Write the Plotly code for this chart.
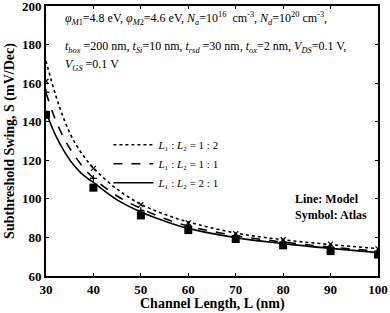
import plotly.graph_objects as go

# Model curves (lines)
L_model = [30, 32, 34, 36, 38, 40, 45, 50, 55, 60, 70, 80, 90, 100]
S_model_12 = [171.5, 154, 140, 129.5, 122, 116, 105, 97.2, 92, 88, 82.3, 78.8, 76.3, 74.2]
S_model_11 = [155, 141, 130.5, 122.5, 116, 110.8, 101.5, 95, 89.8, 85.9, 80.9, 77.6, 75, 72.9]
S_model_21 = [145, 133, 124, 117, 112, 108.5, 99.5, 93.2, 88.5, 84.7, 79.9, 76.8, 74.3, 72.1]

# Atlas simulation (symbols)
L_atlas = [30, 40, 50, 60, 70, 80, 90, 100]
S_atlas_12 = [161, 115.8, 97, 87.5, 82, 78.8, 76.5, 74]
S_atlas_11 = [155.3, 110.6, 94, 86, 80.5, 77, 75, 72.6]
S_atlas_21 = [143.6, 105.8, 91.4, 83.8, 79.2, 75.9, 72.9, 71.1]

legend_names = ["<i>L</i>₁ : <i>L</i>₂ = 1 : 2",
                "<i>L</i>₁ : <i>L</i>₂ = 1 : 1",
                "<i>L</i>₁ : <i>L</i>₂ = 2 : 1"]

x_ticks = [30, 40, 50, 60, 70, 80, 90, 100]
y_ticks = [60, 80, 100, 120, 140, 160, 180, 200]

FONT = "Liberation Serif, Times New Roman, serif"

fig = go.Figure()
for ys, dash, name in [(S_model_12, "dot", legend_names[0]),
                       (S_model_11, "dash", legend_names[1]),
                       (S_model_21, "solid", legend_names[2])]:
    fig.add_trace(go.Scatter(x=L_model, y=ys, mode="lines", name=name,
                             line=dict(color="black", width=1.6, dash=dash, shape="spline"),
                             showlegend=True))

fig.add_trace(go.Scatter(x=L_atlas, y=S_atlas_12, mode="markers", showlegend=False,
                         marker=dict(symbol="x-thin", size=5, line=dict(color="black", width=1.2))))
fig.add_trace(go.Scatter(x=L_atlas, y=S_atlas_11, mode="markers", showlegend=False,
                         marker=dict(symbol="cross-thin", size=5, line=dict(color="black", width=1.2))))
fig.add_trace(go.Scatter(x=L_atlas, y=S_atlas_21, mode="markers", showlegend=False,
                         marker=dict(symbol="square", size=8, color="black")))

ann_font = dict(family=FONT, size=12, color="black")
fig.add_annotation(x=0.05, y=0.955, xref="paper", yref="paper", xanchor="left", yanchor="middle",
                   showarrow=False, font=ann_font,
                   text="<i>φ</i><sub><i>M</i>1</sub>=4.8 eV, <i>φ</i><sub><i>M</i>2</sub>=4.6 eV, "
                        "<i>N</i><sub><i>a</i></sub>=10<sup>16</sup>  cm<sup>-3</sup>, "
                        "<i>N</i><sub><i>d</i></sub>=10<sup>20</sup> cm<sup>-3</sup>,")
fig.add_annotation(x=0.05, y=0.85, xref="paper", yref="paper", xanchor="left", yanchor="middle",
                   showarrow=False, font=ann_font,
                   text="<i>t</i><sub><i>box</i></sub> =200 nm, <i>t</i><sub><i>Si</i></sub>=10 nm, "
                        "<i>t</i><sub><i>rsd</i></sub> =30 nm, <i>t</i><sub><i>ox</i></sub>=2 nm, "
                        "<i>V</i><sub><i>DS</i></sub>=0.1 V,")
fig.add_annotation(x=0.05, y=0.78, xref="paper", yref="paper", xanchor="left", yanchor="middle",
                   showarrow=False, font=ann_font,
                   text="<i>V</i><sub><i>GS</i></sub> =0.1 V")
fig.add_annotation(x=0.745, y=0.285, xref="paper", yref="paper", xanchor="left", yanchor="middle",
                   showarrow=False, font=dict(family=FONT, size=12, color="black"),
                   text="<b>Line: Model</b>")
fig.add_annotation(x=0.745, y=0.225, xref="paper", yref="paper", xanchor="left", yanchor="middle",
                   showarrow=False, font=dict(family=FONT, size=12, color="black"),
                   text="<b>Symbol: Atlas</b>")
# x-axis title
plot_h = 313 - 6 - 37
fig.add_annotation(x=0.5, y=(276 - 304) / plot_h, xref="paper", yref="paper", showarrow=False,
                   xanchor="center", yanchor="middle",
                   font=dict(family=FONT, size=14, color="black"),
                   text="<b>Channel Length, L (nm)</b>")

axis_common = dict(showgrid=False, zeroline=False, showline=True, linecolor="black", linewidth=2,
                   mirror="ticks", ticks="inside", ticklen=3, tickwidth=1, tickcolor="black",
                   automargin=False, ticklabeloverflow="allow",
                   tickfont=dict(family=FONT, size=13, color="black"))

fig.update_xaxes(range=[30, 100], tickvals=x_ticks, ticktext=[f"<b>{v}</b>" for v in x_ticks],
                 **axis_common)
fig.update_yaxes(range=[60, 200], tickvals=y_ticks, ticktext=[f"<b>{v}</b>" for v in y_ticks],
                 title=dict(text="<b>Subthreshold Swing, S (mV/Dec)</b>",
                            font=dict(family=FONT, size=14, color="black"), standoff=4),
                 **axis_common)

fig.update_layout(width=390, height=313, margin=dict(l=46, r=12, t=6, b=37, autoexpand=False),
                  paper_bgcolor="white", plot_bgcolor="white",
                  legend=dict(x=0.188, y=0.54, xanchor="left", yanchor="top",
                              bgcolor="rgba(0,0,0,0)", tracegroupgap=0,
                              font=dict(family=FONT, size=11, color="black"),
                              itemwidth=40),
                  showlegend=True)

fig.write_html("out.html", config={"displayModeBar": False},
               post_script="document.body.style.margin='0';")
